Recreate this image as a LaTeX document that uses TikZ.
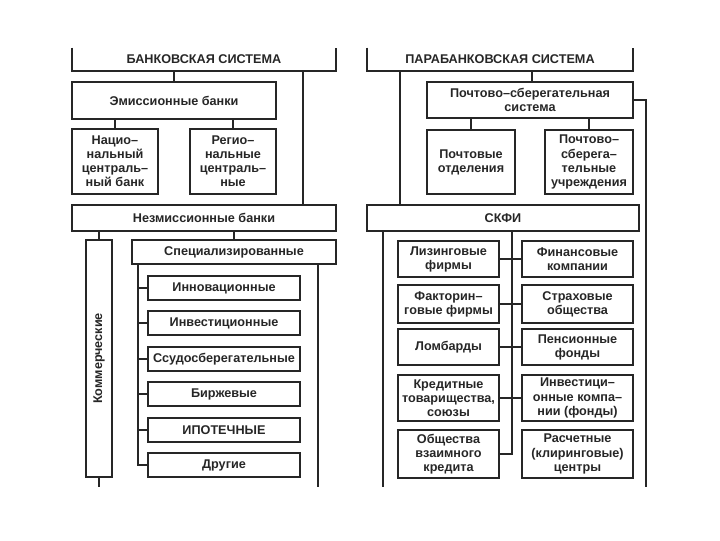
\documentclass[tikz,border=0pt]{standalone}
\usepackage{fontspec}
\setmainfont{Liberation Sans}
\usepackage{tikz}
\usetikzlibrary{positioning,calc}
\tikzset{
  ln/.style  ={line width=0.05cm,black!85},
  box/.style ={draw=black!85,line width=0.05cm,inner sep=1pt,align=center,
               font=\bfseries\fontsize{9}{10}\selectfont,text=black!85},
  hd/.style  ={inner sep=1pt,align=center,font=\bfseries\fontsize{9}{10}\selectfont,text=black!85},
  sz/.style 2 args={minimum width=#1*0.025cm,minimum height=#2*0.025cm},
}

\begin{document}
\begin{tikzpicture}[x=0.025cm,y=-0.025cm]
  \useasboundingbox (0,0) rectangle (720,540);
  % banking system
  \node[hd,sz={264}{23}] (bsys) at (204,59.5){БАНКОВСКАЯ СИСТЕМА};
  \draw[ln] (bsys.north west)--(bsys.south west)--(bsys.south east)--(bsys.north east);
  \node[box,sz={204}{37}] (emis) at (174,100.5){Эмиссионные банки};
  \node[box,sz={86}{65}] (nac) at (115,161.5){Нацио–\\нальный\\централь–\\ный банк};
  \node[box,sz={86}{65}] (reg) at (233,161.5){Регио–\\нальные\\централь–\\ные};
  \node[box,sz={264}{26}] (nonem) at (204,218){Незмиссионные банки};
  \node[box,sz={237}{26},rotate=90] (kom) at (99,358.5){Коммерческие};
  \node[box,sz={204}{24}] (spec) at (234,252){Специализированные};
  \foreach \n/\y/\t in {c1/288/Инновационные,c2/323/Инвестиционные,
      c3/359/Ссудосберегательные,c4/394/Биржевые,c5/430/ИПОТЕЧНЫЕ,c6/465/Другие}
    \node[box,sz={152}{24}] (\n) at (224,\y){\t};
  \coordinate (bx) at (303,0);
  \coordinate (sl) at (138,0);
  \coordinate (sr) at (318,487);
  \coordinate (kend) at (99,487);
  \draw[ln] (bsys.south -| emis)--(emis.north);
  \draw[ln] (emis.south -| nac)--(nac.north);
  \draw[ln] (emis.south -| reg)--(reg.north);
  \draw[ln] (bsys.south -| bx)--(nonem.north -| bx);
  \draw[ln] (nonem.south -| kom)--(kom.east);
  \draw[ln] (kom.west)--(kend);
  \draw[ln] (nonem.south -| spec)--(spec.north);
  \draw[ln] (spec.south -| sl)--(c6.west -| sl)--(c6.west);
  \foreach \n in {c1,c2,c3,c4,c5}
    \draw[ln] (\n.west -| sl)--(\n.west);
  \draw[ln] (spec.south -| sr)--(sr);
  % parabanking system
  \node[hd,sz={266}{23}] (psys) at (500,59.5){ПАРАБАНКОВСКАЯ СИСТЕМА};
  \draw[ln] (psys.north west)--(psys.south west)--(psys.south east)--(psys.north east);
  \node[box,sz={206}{36}] (post) at (530,100){Почтово–сберегательная\\система};
  \node[box,sz={88}{64}] (potd) at (471,162){Почтовые\\отделения};
  \node[box,sz={88}{64}] (puch) at (589,162){Почтово–\\сберега–\\тельные\\учреждения};
  \node[box,sz={272}{26}] (skfi) at (503,218){СКФИ};
  \foreach \n/\y/\h/\t in {l1/259/36/{Лизинговые\\фирмы},l2/304/38/{Факторин–\\говые фирмы},
      l3/347/36/{Ломбарды},l4/398/46/{Кредитные\\товарищества,\\союзы},
      l5/454/48/{Общества\\взаимного\\кредита}}
    \node[box,sz={101}{\h}] (\n) at (448.5,\y){\t};
  \foreach \n/\y/\h/\t in {r1/259/36/{Финансовые\\компании},r2/304/38/{Страховые\\общества},
      r3/347/36/{Пенсионные\\фонды},r4/398/46/{Инвестици–\\онные компа–\\нии (фонды)},
      r5/454/48/{Расчетные\\(клиринговые)\\центры}}
    \node[box,sz={111}{\h}] (\n) at (577.5,\y){\t};
  \coordinate (px) at (400,0);
  \coordinate (pc) at (532,0);
  \coordinate (pr) at (646,487);
  \coordinate (kl) at (383,487);
  \coordinate (km) at (512,0);
  \draw[ln] (psys.south -| pc)--(post.north -| pc);
  \draw[ln] (post.south -| potd)--(potd.north);
  \draw[ln] (post.south -| puch)--(puch.north);
  \draw[ln] (psys.south -| px)--(skfi.north -| px);
  \draw[ln] (post.east)--(post.east -| pr)--(pr);
  \draw[ln] (skfi.south -| kl)--(kl);
  \draw[ln] (skfi.south -| km)--(l5.east -| km)--(l5.east);
  \foreach \i in {1,2,3,4}
    \draw[ln] (l\i.east)--(r\i.west);
\end{tikzpicture}
\end{document}
